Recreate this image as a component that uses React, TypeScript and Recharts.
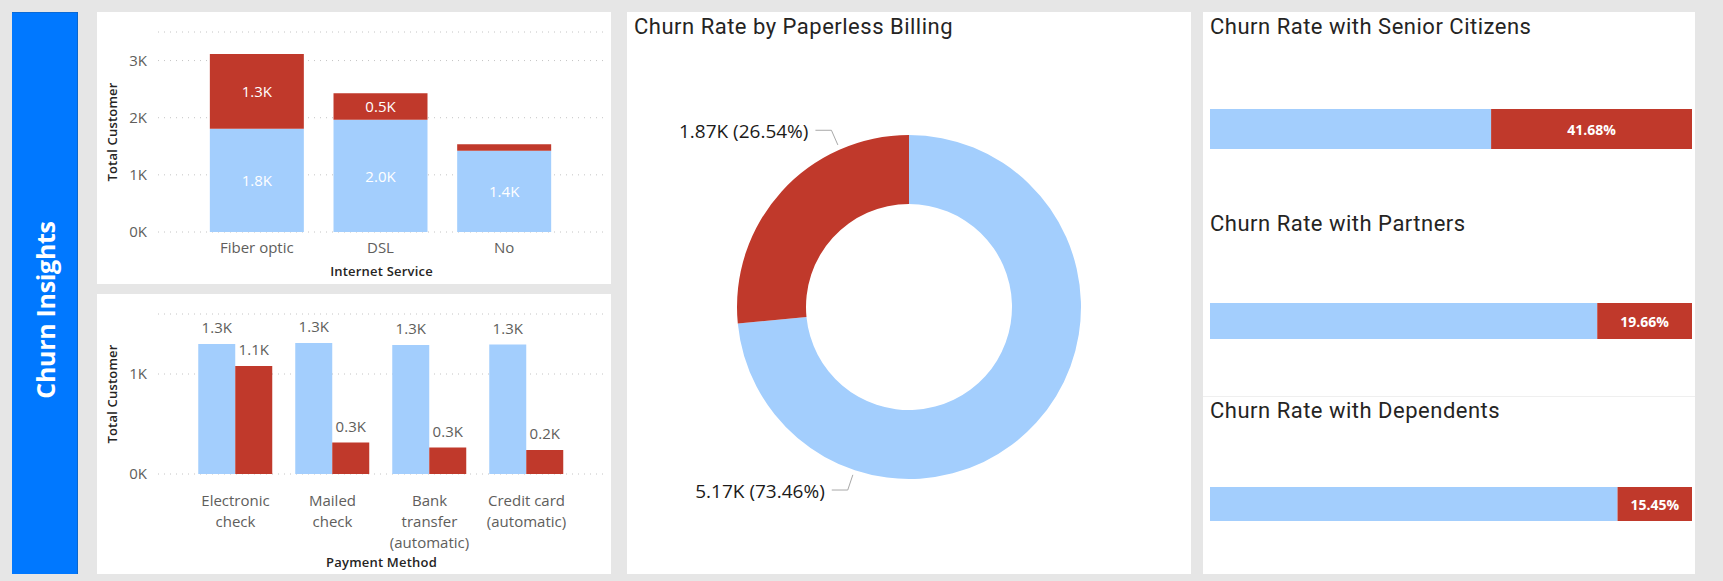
import React from "react";
import {
  BarChart,
  Bar,
  XAxis,
  YAxis,
  CartesianGrid,
  LabelList,
  PieChart,
  Pie,
  Cell,
} from "recharts";

// internet service (stacked)
const internetServices = ["Fiber optic", "DSL", "No"];
const internetStayed = [1805, 1965, 1420];
const internetChurned = [1310, 465, 115];
const internetTicks = [0, 1000, 2000, 3000];

// payment method (clustered)
const paymentMethods = [
  "Electronic check",
  "Mailed check",
  "Bank transfer (automatic)",
  "Credit card (automatic)",
];
const paymentTickLines = [
  ["Electronic", "check"],
  ["Mailed", "check"],
  ["Bank", "transfer", "(automatic)"],
  ["Credit card", "(automatic)"],
];
const paymentStayed = [1300, 1310, 1290, 1295];
const paymentChurned = [1080, 315, 265, 240];
const paymentTicks = [0, 1000];

// paperless billing donut
const billingNames = ["No churn", "Churn"];
const billingCustomers = [5174, 1869];

// churn rate bars
const groupTitles = [
  "Churn Rate with Senior Citizens",
  "Churn Rate with Partners",
  "Churn Rate with Dependents",
];
const groupStayedRate = [58.32, 80.34, 84.55];
const groupChurnRate = [41.68, 19.66, 15.45];

const BLUE = "#A3CEFD";
const RED = "#C0392B";
const BG = "#E6E6E6";
const TICK = "#605E5C";
const DARK = "#252423";
const LABEL_FONT = "'Open Sans', sans-serif";
const TITLE_FONT = "Roboto, sans-serif";

// where the donut labels sit (degrees), per slice
const donutLabelAngles = [251.5, 113.7];
const rowTops = [97, 291, 475];
const rowHeights = [40, 36, 34];
const titleTops = [15, 212, 399];

const fmtK = (v: number) => `${(v / 1000).toFixed(1)}K`;

const internetData = internetServices.map((name, i) => ({
  name,
  stayed: internetStayed[i],
  churned: internetChurned[i],
}));

const paymentData = paymentMethods.map((name, i) => ({
  name,
  stayed: paymentStayed[i],
  churned: paymentChurned[i],
}));

const billingData = billingNames.map((name, i) => ({
  name,
  value: billingCustomers[i],
}));

const insideLabel = (props: any) => {
  const { x, y, width, height, value } = props;
  if (height < 18) return null;
  return (
    <text
      x={x + width / 2}
      y={y + height / 2}
      fill="#ffffff"
      textAnchor="middle"
      dominantBaseline="central"
      fontSize={15}
      fontFamily={LABEL_FONT}
    >
      {fmtK(value)}
    </text>
  );
};

const topLabel = (props: any) => {
  const { x, y, width, value } = props;
  return (
    <text
      x={x + width / 2}
      y={y - 17}
      fill={TICK}
      textAnchor="middle"
      dominantBaseline="central"
      fontSize={15}
      fontFamily={LABEL_FONT}
    >
      {fmtK(value)}
    </text>
  );
};

const xTitle = (text: string, offset: number) => (props: any) => {
  const { x, y, width, height } = props.viewBox;
  return (
    <text
      x={x + width / 2}
      y={y + height - offset}
      textAnchor="middle"
      fill={DARK}
      fontSize={13}
      fontWeight={600}
      letterSpacing={0.2}
      fontFamily={LABEL_FONT}
    >
      {text}
    </text>
  );
};

const yTitle = (text: string) => (props: any) => {
  const { x, y, height } = props.viewBox;
  const tx = x + 20;
  const ty = y + height / 2;
  return (
    <text
      x={tx}
      y={ty}
      transform={`rotate(-90 ${tx} ${ty})`}
      textAnchor="middle"
      fill={DARK}
      fontSize={13}
      fontWeight={600}
      letterSpacing={0.2}
      fontFamily={LABEL_FONT}
    >
      {text}
    </text>
  );
};

const PaymentTick = (props: any) => {
  const { x, y, payload } = props;
  const idx = paymentMethods.indexOf(payload.value);
  const lines = paymentTickLines[idx] || [payload.value];
  return (
    <text
      x={x}
      y={y + 32}
      textAnchor="middle"
      fill={TICK}
      fontSize={15}
      fontFamily={LABEL_FONT}
    >
      {lines.map((l, i) => (
        <tspan key={i} x={x} dy={i === 0 ? 0 : 21}>
          {l}
        </tspan>
      ))}
    </text>
  );
};

const RADIAN = Math.PI / 180;

const donutLabel = (props: any) => {
  const { cx, cy, outerRadius, index, value, percent } = props;
  const a = donutLabelAngles[index] * RADIAN;
  const p0 = {
    x: cx + (outerRadius + 5) * Math.cos(a),
    y: cy - (outerRadius + 5) * Math.sin(a),
  };
  const p1 = {
    x: cx + (outerRadius + 21) * Math.cos(a),
    y: cy - (outerRadius + 21) * Math.sin(a),
  };
  const p2 = { x: p1.x - 16, y: p1.y };
  const text = `${(value / 1000).toFixed(2)}K (${(percent * 100).toFixed(2)}%)`;
  return (
    <g>
      <polyline
        points={`${p0.x},${p0.y} ${p1.x},${p1.y} ${p2.x},${p2.y}`}
        fill="none"
        stroke="#a8a8a8"
        strokeWidth={1}
      />
      <text
        x={p2.x - 7}
        y={p1.y + 1}
        textAnchor="end"
        dominantBaseline="central"
        fill="#1b1a19"
        fontSize={19}
        fontFamily={LABEL_FONT}
      >
        {text}
      </text>
    </g>
  );
};

const rateLabel = (props: any) => {
  const { x, y, width, height, value } = props;
  return (
    <text
      x={x + width / 2}
      y={y + height / 2}
      fill="#ffffff"
      textAnchor="middle"
      dominantBaseline="central"
      fontSize={14}
      fontWeight={700}
      fontFamily={LABEL_FONT}
    >
      {`${value.toFixed(2)}%`}
    </text>
  );
};

const tickStyle = { fill: TICK, fontSize: 15, fontFamily: LABEL_FONT };

export default function App() {
  return (
    <div style={styles.page}>
      {/* sidebar */}
      <div style={styles.sidebar}>
        <svg width={66} height={562}>
          <text
            x={43}
            y={298}
            transform="rotate(-90 43 298)"
            textAnchor="middle"
            fill="#ffffff"
            fontSize={25}
            fontWeight={700}
            letterSpacing={-0.3}
            fontFamily={LABEL_FONT}
          >
            Churn Insights
          </text>
        </svg>
      </div>

      {/* internet service */}
      <div style={{ ...styles.panel, left: 97, top: 12, width: 514, height: 272 }}>
        <BarChart
          width={514}
          height={272}
          data={internetData}
          margin={{ top: 20, right: 6, bottom: 0, left: 0 }}
          barCategoryGap="12%"
        >
          <CartesianGrid vertical={false} stroke="#c4c4c4" strokeDasharray="1 5" />
          <XAxis
            dataKey="name"
            axisLine={false}
            tickLine={false}
            tickSize={0}
            tickMargin={10}
            height={52}
            interval={0}
            padding={{ left: 37, right: 39 }}
            tick={tickStyle}
            label={xTitle("Internet Service", 8)}
          />
          <YAxis
            width={61}
            domain={[0, 3500]}
            ticks={internetTicks}
            axisLine={false}
            tickLine={false}
            tickSize={0}
            tickMargin={11}
            tick={tickStyle}
            tickFormatter={(v: number) => `${v / 1000}K`}
            label={yTitle("Total Customer")}
          />
          <Bar dataKey="stayed" stackId="a" fill={BLUE} isAnimationActive={false}>
            <LabelList dataKey="stayed" content={insideLabel} />
          </Bar>
          <Bar dataKey="churned" stackId="a" fill={RED} isAnimationActive={false}>
            <LabelList dataKey="churned" content={insideLabel} />
          </Bar>
        </BarChart>
      </div>

      {/* payment method */}
      <div style={{ ...styles.panel, left: 97, top: 294, width: 514, height: 280 }}>
        <BarChart
          width={514}
          height={280}
          data={paymentData}
          margin={{ top: 20, right: 6, bottom: 0, left: 0 }}
          barCategoryGap="11.6%"
          barGap={0}
        >
          <CartesianGrid vertical={false} stroke="#c4c4c4" strokeDasharray="1 5" />
          <XAxis
            dataKey="name"
            axisLine={false}
            tickLine={false}
            tickSize={0}
            tickMargin={0}
            height={100}
            interval={0}
            padding={{ left: 29, right: 30 }}
            tick={<PaymentTick />}
            label={xTitle("Payment Method", 7)}
          />
          <YAxis
            width={61}
            domain={[0, 1600]}
            ticks={paymentTicks}
            axisLine={false}
            tickLine={false}
            tickSize={0}
            tickMargin={11}
            tick={tickStyle}
            tickFormatter={(v: number) => `${v / 1000}K`}
            label={yTitle("Total Customer")}
          />
          <Bar dataKey="stayed" fill={BLUE} isAnimationActive={false}>
            <LabelList dataKey="stayed" content={topLabel} />
          </Bar>
          <Bar dataKey="churned" fill={RED} isAnimationActive={false}>
            <LabelList dataKey="churned" content={topLabel} />
          </Bar>
        </BarChart>
      </div>

      {/* paperless billing */}
      <div style={{ ...styles.panel, left: 627, top: 12, width: 564, height: 562 }}>
        <div style={styles.title}>Churn Rate by Paperless Billing</div>
        <PieChart
          width={564}
          height={562}
          margin={{ top: 0, right: 0, bottom: 0, left: 0 }}
        >
          <Pie
            data={billingData}
            dataKey="value"
            nameKey="name"
            cx={282}
            cy={295}
            innerRadius={103}
            outerRadius={172}
            startAngle={90}
            endAngle={-270}
            stroke="none"
            label={donutLabel}
            labelLine={false}
            isAnimationActive={false}
          >
            {billingData.map((d, i) => (
              <Cell key={d.name} fill={i === 0 ? BLUE : RED} />
            ))}
          </Pie>
        </PieChart>
      </div>

      {/* churn rates */}
      <div style={{ ...styles.panel, left: 1203, top: 12, width: 492, height: 562 }}>
        <div style={{ ...styles.divider, top: 384 }} />
        {groupTitles.map((t, i) => (
          <React.Fragment key={t}>
            <div style={{ ...styles.title, top: titleTops[i] - 15 }}>{t}</div>
            <div style={{ position: "absolute", left: 7, top: rowTops[i] }}>
              <BarChart
                width={482}
                height={rowHeights[i]}
                layout="vertical"
                data={[
                  { name: t, stayed: groupStayedRate[i], churned: groupChurnRate[i] },
                ]}
                margin={{ top: 0, right: 0, bottom: 0, left: 0 }}
                barCategoryGap={0}
              >
                <XAxis type="number" domain={[0, 100]} hide />
                <YAxis type="category" dataKey="name" hide />
                <Bar dataKey="stayed" stackId="r" fill={BLUE} isAnimationActive={false} />
                <Bar dataKey="churned" stackId="r" fill={RED} isAnimationActive={false}>
                  <LabelList dataKey="churned" content={rateLabel} />
                </Bar>
              </BarChart>
            </div>
          </React.Fragment>
        ))}
      </div>
    </div>
  );
}

const styles: any = {
  page: {
    position: "absolute",
    left: 0,
    top: 0,
    width: 1723,
    height: 581,
    background: BG,
    overflow: "hidden",
    fontFamily: LABEL_FONT,
  },
  sidebar: {
    position: "absolute",
    left: 12,
    top: 12,
    width: 66,
    height: 562,
    background: "#0078FF",
    boxShadow: "inset -1px 0 0 #0A66CC, inset 0 1px 0 #0A6AD6",
  },
  panel: {
    position: "absolute",
    background: "#ffffff",
  },
  title: {
    position: "absolute",
    left: 7,
    top: 0,
    height: 30,
    lineHeight: "30px",
    fontFamily: TITLE_FONT,
    fontSize: 22,
    letterSpacing: 0.5,
    color: DARK,
    whiteSpace: "nowrap",
    zIndex: 1,
  },
  divider: {
    position: "absolute",
    left: 0,
    right: 0,
    height: 1,
    background: "#efefef",
  },
};
